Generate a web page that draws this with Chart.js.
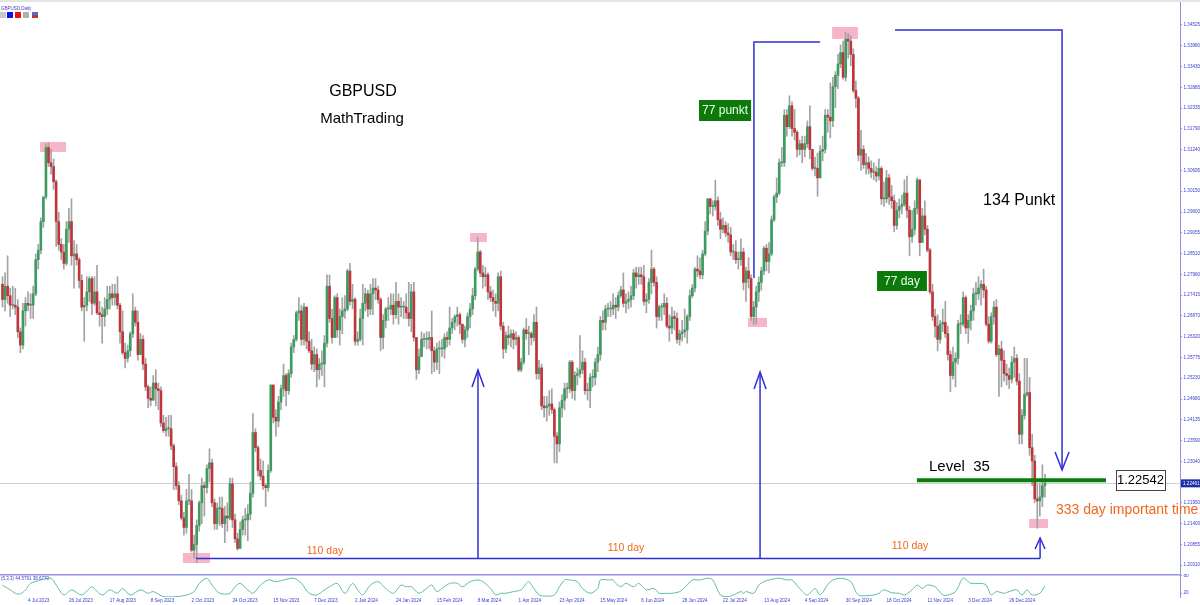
<!DOCTYPE html>
<html>
<head>
<meta charset="utf-8">
<title>GBPUSD Daily</title>
<script src="https://cdn.jsdelivr.net/npm/chart.js@4.4.1/dist/chart.umd.min.js"></script>
<style>
  html, body { margin: 0; padding: 0; background: #fff; }
  #wrap { position: relative; width: 1200px; height: 605px; overflow: hidden; }
  #main { position: absolute; left: 0; top: 0; width: 1200px; height: 574px; }
  #osc { position: absolute; left: 0; top: 574px; width: 1200px; height: 31px; }
</style>
</head>
<body>
<div id="wrap">
  <canvas id="main" width="1200" height="574"></canvas>
  <canvas id="osc" width="1200" height="31"></canvas>
</div>
<script>
// GBPUSD daily, 20 Jun 2023 - 16 Jan 2025 (open of a day = previous close)
const firstOpen = 1.2770;

const closes = [
  1.2730, 1.2765, 1.2740, 1.2715,
  1.2715, 1.2710, 1.2645, 1.2610, 1.2700,
  1.2720, 1.2715, 1.2715, 1.2745, 1.2835,
  1.2860, 1.2935, 1.3000, 1.3130, 1.3090,
  1.3080, 1.3040, 1.2935, 1.2875, 1.2855,
  1.2825, 1.2915, 1.2935, 1.2845, 1.2850,
  1.2835, 1.2780, 1.2710, 1.2715, 1.2750,
  1.2785, 1.2720, 1.2750, 1.2695, 1.2690,
  1.2685, 1.2705, 1.2730, 1.2745, 1.2735,
  1.2745, 1.2715, 1.2645, 1.2590, 1.2575,
  1.2595, 1.2640, 1.2700, 1.2670, 1.2585,
  1.2625, 1.2560, 1.2500, 1.2470, 1.2465,
  1.2510, 1.2495, 1.2490, 1.2405, 1.2385,
  1.2390, 1.2390, 1.2345, 1.2290, 1.2240,
  1.2200, 1.2155, 1.2130, 1.2200, 1.2200,
  1.2070, 1.2085, 1.2135, 1.2195, 1.2240,
  1.2235, 1.2285, 1.2300, 1.2195, 1.2140,
  1.2180, 1.2180, 1.2140, 1.2160, 1.2155,
  1.2245, 1.2150, 1.2100, 1.2075, 1.2125,
  1.2150, 1.2150, 1.2165, 1.2220, 1.2380,
  1.2340, 1.2280, 1.2265, 1.2240, 1.2235,
  1.2280, 1.2505, 1.2420, 1.2410, 1.2460,
  1.2495, 1.2530, 1.2490, 1.2535, 1.2605,
  1.2625, 1.2695, 1.2700, 1.2625, 1.2710,
  1.2620, 1.2595, 1.2560, 1.2585, 1.2545,
  1.2560, 1.2560, 1.2615, 1.2765, 1.2680,
  1.2630, 1.2735, 1.2650, 1.2685, 1.2700,
  1.2705, 1.2805, 1.2725, 1.2730,
  1.2620, 1.2625, 1.2680, 1.2720,
  1.2745, 1.2705, 1.2745, 1.2760, 1.2755,
  1.2730, 1.2630, 1.2675, 1.2705, 1.2705,
  1.2715, 1.2690, 1.2725, 1.2710, 1.2710,
  1.2710, 1.2695, 1.2680, 1.2750, 1.2630,
  1.2545, 1.2580, 1.2625, 1.2625, 1.2625,
  1.2630, 1.2595, 1.2565, 1.2600, 1.2600,
  1.2600, 1.2630, 1.2625, 1.2655, 1.2670,
  1.2685, 1.2690, 1.2665, 1.2625, 1.2650,
  1.2685, 1.2705, 1.2740, 1.2810, 1.2855,
  1.2800, 1.2790, 1.2795, 1.2750, 1.2735,
  1.2725, 1.2720, 1.2790, 1.2660, 1.2600,
  1.2635, 1.2630, 1.2640, 1.2625, 1.2630,
  1.2545, 1.2565, 1.2650, 1.2640, 1.2640,
  1.2630, 1.2670, 1.2535, 1.2550, 1.2450,
  1.2445, 1.2450, 1.2455, 1.2440, 1.2370,
  1.2350, 1.2445, 1.2465, 1.2495, 1.2495,
  1.2565, 1.2490, 1.2530, 1.2535, 1.2545,
  1.2565, 1.2490, 1.2490, 1.2525, 1.2525,
  1.2565, 1.2585, 1.2675, 1.2670, 1.2705,
  1.2705, 1.2705, 1.2715, 1.2710, 1.2740,
  1.2755, 1.2720, 1.2725, 1.2730, 1.2740,
  1.2800, 1.2790, 1.2795, 1.2790, 1.2725,
  1.2730, 1.2775, 1.2810, 1.2775, 1.2685,
  1.2710, 1.2710, 1.2720, 1.2660, 1.2655,
  1.2685, 1.2680, 1.2625, 1.2640, 1.2645,
  1.2650, 1.2685, 1.2740, 1.2760, 1.2810,
  1.2805, 1.2795, 1.2850, 1.2910, 1.2995,
  1.2975, 1.2975, 1.2990, 1.2940, 1.2915,
  1.2925, 1.2905, 1.2900, 1.2855, 1.2855,
  1.2835, 1.2835, 1.2855, 1.2775, 1.2805,
  1.2785, 1.2685, 1.2710, 1.2750, 1.2775,
  1.2805, 1.2865, 1.2830, 1.2850, 1.2940,
  1.3000, 1.3010, 1.3090, 1.3090, 1.3215,
  1.3185, 1.3240, 1.3180, 1.3170, 1.3125,
  1.3140, 1.3125, 1.3140, 1.3185, 1.3125,
  1.3075, 1.3075, 1.3050, 1.3120, 1.3125,
  1.3215, 1.3210, 1.3200, 1.3290, 1.3320,
  1.3350, 1.3380, 1.3315, 1.3415, 1.3410,
  1.3375, 1.3280, 1.3260, 1.3110, 1.3125,
  1.3085, 1.3090, 1.3075, 1.3065, 1.3065,
  1.3055, 1.3075, 1.2995, 1.2995, 1.3050,
  1.3000, 1.2990, 1.2925, 1.2965, 1.2975,
  1.2980, 1.3010, 1.2965, 1.2895, 1.2915,
  1.2970, 1.3045, 1.2880, 1.2950, 1.2915,
  1.2860, 1.2750, 1.2685, 1.2660, 1.2625,
  1.2665, 1.2670, 1.2640, 1.2585, 1.2530,
  1.2565, 1.2575, 1.2665, 1.2665, 1.2735,
  1.2655, 1.2675, 1.2700, 1.2745, 1.2745,
  1.2760, 1.2770, 1.2755, 1.2665, 1.2620,
  1.2685, 1.2710, 1.2585, 1.2600, 1.2570,
  1.2535, 1.2530, 1.2520, 1.2565,
  1.2575, 1.2515, 1.2375, 1.2425,
  1.2480, 1.2485, 1.2340, 1.2305, 1.2205,
  1.2200, 1.2210, 1.2240, 1.2246
];

const highs = [
  1.2790, 1.2800, 1.2845, 1.2760,
  1.2765, 1.2760, 1.2730, 1.2655, 1.2720,
  1.2735, 1.2750, 1.2745, 1.2765, 1.2850,
  1.2875, 1.2945, 1.3000, 1.3140, 1.3142,
  1.3125, 1.3100, 1.3045, 1.2960, 1.2890,
  1.2875, 1.2935, 1.2970, 1.2995, 1.2885,
  1.2875, 1.2840, 1.2795, 1.2735, 1.2790,
  1.2790, 1.2790, 1.2790, 1.2820, 1.2725,
  1.2710, 1.2735, 1.2765, 1.2765, 1.2770,
  1.2770, 1.2790, 1.2720, 1.2700, 1.2615,
  1.2610, 1.2645, 1.2745, 1.2710, 1.2700,
  1.2640, 1.2635, 1.2575, 1.2505, 1.2500,
  1.2530, 1.2545, 1.2510, 1.2500, 1.2425,
  1.2420, 1.2425, 1.2425, 1.2350, 1.2300,
  1.2250, 1.2215, 1.2170, 1.2230, 1.2270,
  1.2230, 1.2110, 1.2150, 1.2200, 1.2260,
  1.2250, 1.2295, 1.2337, 1.2310, 1.2205,
  1.2195, 1.2210, 1.2210, 1.2185, 1.2195,
  1.2260, 1.2260, 1.2165, 1.2115, 1.2145,
  1.2160, 1.2180, 1.2190, 1.2250, 1.2430,
  1.2390, 1.2345, 1.2310, 1.2305, 1.2245,
  1.2295, 1.2505, 1.2505, 1.2440, 1.2475,
  1.2505, 1.2560, 1.2535, 1.2545, 1.2615,
  1.2635, 1.2700, 1.2735, 1.2715, 1.2720,
  1.2710, 1.2645, 1.2625, 1.2605, 1.2600,
  1.2575, 1.2595, 1.2635, 1.2795, 1.2795,
  1.2705, 1.2740, 1.2745, 1.2705, 1.2735,
  1.2740, 1.2810, 1.2825, 1.2770,
  1.2735, 1.2645, 1.2705, 1.2770,
  1.2760, 1.2755, 1.2770, 1.2785, 1.2785,
  1.2765, 1.2735, 1.2690, 1.2710, 1.2735,
  1.2745, 1.2745, 1.2775, 1.2745, 1.2735,
  1.2725, 1.2745, 1.2775, 1.2770, 1.2775,
  1.2630, 1.2600, 1.2645, 1.2640, 1.2645,
  1.2645, 1.2700, 1.2605, 1.2615, 1.2620,
  1.2625, 1.2640, 1.2645, 1.2710, 1.2680,
  1.2690, 1.2710, 1.2695, 1.2665, 1.2660,
  1.2695, 1.2720, 1.2760, 1.2815, 1.2894,
  1.2860, 1.2820, 1.2815, 1.2800, 1.2765,
  1.2755, 1.2745, 1.2800, 1.2805, 1.2670,
  1.2645, 1.2660, 1.2650, 1.2650, 1.2645,
  1.2635, 1.2575, 1.2655, 1.2680, 1.2660,
  1.2645, 1.2690, 1.2710, 1.2570, 1.2560,
  1.2475, 1.2475, 1.2490, 1.2495, 1.2445,
  1.2380, 1.2460, 1.2480, 1.2510, 1.2510,
  1.2570, 1.2570, 1.2540, 1.2550, 1.2635,
  1.2595, 1.2575, 1.2510, 1.2535, 1.2545,
  1.2575, 1.2605, 1.2685, 1.2700, 1.2715,
  1.2720, 1.2725, 1.2745, 1.2735, 1.2750,
  1.2765, 1.2800, 1.2745, 1.2750, 1.2765,
  1.2810, 1.2815, 1.2815, 1.2815, 1.2820,
  1.2745, 1.2785, 1.2860, 1.2815, 1.2790,
  1.2715, 1.2720, 1.2745, 1.2735, 1.2690,
  1.2710, 1.2700, 1.2695, 1.2650, 1.2675,
  1.2705, 1.2690, 1.2755, 1.2770, 1.2815,
  1.2845, 1.2840, 1.2860, 1.2935, 1.2995,
  1.2995, 1.2990, 1.3044, 1.3000, 1.2960,
  1.2945, 1.2935, 1.2930, 1.2920, 1.2875,
  1.2885, 1.2855, 1.2890, 1.2865, 1.2815,
  1.2840, 1.2795, 1.2725, 1.2765, 1.2790,
  1.2815, 1.2870, 1.2875, 1.2880, 1.2950,
  1.3005, 1.3050, 1.3100, 1.3130, 1.3230,
  1.3230, 1.3266, 1.3250, 1.3230, 1.3175,
  1.3150, 1.3160, 1.3160, 1.3200, 1.3240,
  1.3125, 1.3105, 1.3115, 1.3135, 1.3160,
  1.3230, 1.3230, 1.3300, 1.3315, 1.3330,
  1.3375, 1.3400, 1.3410, 1.3434, 1.3430,
  1.3425, 1.3390, 1.3305, 1.3265, 1.3175,
  1.3135, 1.3115, 1.3105, 1.3095, 1.3090,
  1.3080, 1.3100, 1.3080, 1.3040, 1.3070,
  1.3060, 1.3030, 1.3005, 1.2985, 1.2995,
  1.3005, 1.3045, 1.3055, 1.2975, 1.2965,
  1.2990, 1.3050, 1.3045, 1.2970, 1.2990,
  1.2925, 1.2865, 1.2770, 1.2705, 1.2690,
  1.2675, 1.2705, 1.2725, 1.2660, 1.2595,
  1.2605, 1.2590, 1.2675, 1.2690, 1.2750,
  1.2740, 1.2690, 1.2715, 1.2760, 1.2775,
  1.2790, 1.2780, 1.2810, 1.2765, 1.2685,
  1.2695, 1.2725, 1.2730, 1.2610, 1.2620,
  1.2595, 1.2560, 1.2550, 1.2580,
  1.2605, 1.2585, 1.2535, 1.2440,
  1.2575, 1.2575, 1.2525, 1.2375, 1.2320,
  1.2245, 1.2245, 1.2295, 1.2270
];

const lows = [
  1.2710, 1.2700, 1.2720, 1.2685,
  1.2705, 1.2690, 1.2630, 1.2590, 1.2600,
  1.2660, 1.2700, 1.2680, 1.2680, 1.2740,
  1.2810, 1.2850, 1.2920, 1.2995, 1.3080,
  1.3060, 1.3020, 1.2870, 1.2860, 1.2835,
  1.2810, 1.2820, 1.2880, 1.2820, 1.2760,
  1.2820, 1.2760, 1.2700, 1.2620, 1.2700,
  1.2725, 1.2690, 1.2715, 1.2690, 1.2660,
  1.2615, 1.2660, 1.2690, 1.2705, 1.2715,
  1.2715, 1.2705, 1.2615, 1.2585, 1.2550,
  1.2565, 1.2580, 1.2630, 1.2660, 1.2570,
  1.2585, 1.2545, 1.2490, 1.2445, 1.2450,
  1.2465, 1.2450, 1.2440, 1.2395, 1.2380,
  1.2370, 1.2370, 1.2335, 1.2230, 1.2230,
  1.2190, 1.2150, 1.2110, 1.2115, 1.2190,
  1.2065, 1.2050, 1.2037, 1.2120, 1.2140,
  1.2160, 1.2220, 1.2250, 1.2185, 1.2125,
  1.2125, 1.2135, 1.2130, 1.2090, 1.2120,
  1.2150, 1.2130, 1.2090, 1.2070, 1.2075,
  1.2110, 1.2110, 1.2095, 1.2150, 1.2210,
  1.2330, 1.2265, 1.2255, 1.2230, 1.2185,
  1.2225, 1.2275, 1.2405, 1.2370, 1.2395,
  1.2440, 1.2475, 1.2450, 1.2480, 1.2525,
  1.2590, 1.2620, 1.2675, 1.2610, 1.2610,
  1.2600, 1.2590, 1.2545, 1.2540, 1.2500,
  1.2520, 1.2530, 1.2500, 1.2605, 1.2670,
  1.2615, 1.2630, 1.2630, 1.2610, 1.2640,
  1.2680, 1.2700, 1.2715, 1.2705,
  1.2610, 1.2610, 1.2620, 1.2610,
  1.2700, 1.2685, 1.2690, 1.2690, 1.2730,
  1.2720, 1.2595, 1.2600, 1.2655, 1.2675,
  1.2690, 1.2665, 1.2680, 1.2665, 1.2685,
  1.2680, 1.2680, 1.2660, 1.2645, 1.2620,
  1.2520, 1.2535, 1.2580, 1.2605, 1.2600,
  1.2600, 1.2535, 1.2540, 1.2545, 1.2535,
  1.2580, 1.2575, 1.2605, 1.2610, 1.2640,
  1.2650, 1.2660, 1.2640, 1.2615, 1.2605,
  1.2630, 1.2655, 1.2690, 1.2730, 1.2805,
  1.2790, 1.2760, 1.2765, 1.2730, 1.2725,
  1.2700, 1.2685, 1.2700, 1.2650, 1.2575,
  1.2590, 1.2610, 1.2605, 1.2600, 1.2610,
  1.2540, 1.2540, 1.2560, 1.2625, 1.2585,
  1.2610, 1.2620, 1.2520, 1.2520, 1.2440,
  1.2420, 1.2410, 1.2425, 1.2430, 1.2300,
  1.2300, 1.2330, 1.2420, 1.2440, 1.2470,
  1.2485, 1.2470, 1.2465, 1.2505, 1.2525,
  1.2535, 1.2480, 1.2465, 1.2445, 1.2500,
  1.2505, 1.2540, 1.2570, 1.2650, 1.2650,
  1.2685, 1.2685, 1.2690, 1.2680, 1.2700,
  1.2735, 1.2710, 1.2695, 1.2705, 1.2710,
  1.2730, 1.2760, 1.2770, 1.2770, 1.2715,
  1.2695, 1.2720, 1.2745, 1.2765, 1.2655,
  1.2675, 1.2675, 1.2690, 1.2655, 1.2620,
  1.2640, 1.2650, 1.2615, 1.2610, 1.2620,
  1.2630, 1.2615, 1.2675, 1.2735, 1.2750,
  1.2790, 1.2785, 1.2785, 1.2845, 1.2900,
  1.2955, 1.2950, 1.2965, 1.2925, 1.2890,
  1.2905, 1.2895, 1.2880, 1.2845, 1.2835,
  1.2825, 1.2810, 1.2820, 1.2755, 1.2725,
  1.2760, 1.2675, 1.2665, 1.2665, 1.2725,
  1.2755, 1.2795, 1.2805, 1.2800, 1.2845,
  1.2935, 1.2985, 1.3005, 1.3080, 1.3080,
  1.3160, 1.3180, 1.3160, 1.3150, 1.3105,
  1.3110, 1.3090, 1.3105, 1.3130, 1.3100,
  1.3070, 1.3055, 1.3002, 1.3055, 1.3095,
  1.3115, 1.3170, 1.3155, 1.3185, 1.3235,
  1.3285, 1.3340, 1.3310, 1.3305, 1.3365,
  1.3345, 1.3275, 1.3235, 1.3095, 1.3070,
  1.3075, 1.3060, 1.3060, 1.3050, 1.3045,
  1.3040, 1.3045, 1.2980, 1.2975, 1.2985,
  1.2980, 1.2970, 1.2908, 1.2915, 1.2945,
  1.2955, 1.2975, 1.2945, 1.2845, 1.2880,
  1.2900, 1.2955, 1.2845, 1.2880, 1.2900,
  1.2855, 1.2745, 1.2675, 1.2630, 1.2595,
  1.2615, 1.2645, 1.2630, 1.2570, 1.2487,
  1.2520, 1.2500, 1.2560, 1.2640, 1.2660,
  1.2640, 1.2615, 1.2650, 1.2675, 1.2715,
  1.2730, 1.2715, 1.2735, 1.2660, 1.2615,
  1.2615, 1.2665, 1.2580, 1.2475, 1.2500,
  1.2515, 1.2505, 1.2495, 1.2510,
  1.2525, 1.2505, 1.2350, 1.2350,
  1.2415, 1.2475, 1.2320, 1.2240, 1.2195,
  1.2128, 1.2160, 1.2185, 1.2210
];

// stochastic main line, read at these candle positions
const oscAt = [
  0, 3, 5, 7, 9, 11, 15, 19, 21, 24,
  27, 31, 34, 35, 39, 42, 45, 47, 50, 54,
  57, 59, 63, 68, 72, 75, 77, 80, 82, 85,
  89, 91, 93, 96, 98, 101, 104, 107, 110, 114,
  117, 120, 123, 126, 128, 131, 134, 137, 139, 141,
  144, 147, 150, 153, 156, 158, 160, 163, 166, 168,
  170, 172, 175, 178, 180, 183, 186, 188, 191, 193,
  195, 197, 200, 203, 205, 206, 208, 210, 213, 216,
  218, 220, 222, 225, 227, 230, 233, 234, 237, 239,
  240, 242, 244, 247, 249, 252, 255, 257, 260, 262,
  265, 268, 270, 273, 276, 278, 281, 284, 286, 289,
  290, 291, 294, 296, 298, 300, 304, 307, 309, 312,
  315, 318, 320, 324, 328, 332, 335, 341, 343, 345,
  348, 351, 353, 356, 358, 360, 362, 365, 368, 370,
  373, 376, 379, 383, 385, 387, 389, 392, 394, 397,
  399, 401, 403, 406, 408
];
const oscVal = [
  48, 31, 19, 17, 31, 54, 66, 72, 48, 13,
  31, 13, 36, 42, 13, 31, 19, 36, 13, 31,
  19, 25, 7, 7, 13, 25, 54, 72, 48, 19,
  19, 42, 54, 31, 19, 48, 66, 60, 66, 72,
  54, 19, 13, 31, 42, 54, 19, 54, 31, 13,
  48, 60, 36, 19, 48, 42, 42, 19, 36, 48,
  25, 36, 54, 54, 42, 60, 66, 60, 36, 13,
  19, 19, 25, 31, 54, 60, 36, 13, 9, 13,
  42, 66, 66, 60, 36, 19, 36, 66, 66, 66,
  54, 42, 54, 42, 54, 31, 36, 19, 19, 19,
  25, 48, 66, 66, 72, 66, 13, 7, 13, 25,
  19, 25, 19, 48, 60, 66, 72, 66, 66, 36,
  13, 36, 13, 60, 72, 60, 13, 13, 19, 31,
  21, 19, 13, 31, 48, 36, 48, 42, 13, 13,
  25, 72, 54, 54, 48, 13, 25, 19, 25, 31,
  13, 31, 13, 19, 45
];

const dateTickAt = [10, 26, 42, 58, 74, 90, 106, 122, 138, 154, 170, 186, 202,
  218, 234, 250, 266, 282, 298, 314, 330, 346, 362, 378, 394];
const dateLabels = ['4 Jul 2023', '26 Jul 2023', '17 Aug 2023', '8 Sep 2023', '2 Oct 2023',
  '24 Oct 2023', '15 Nov 2023', '7 Dec 2023', '2 Jan 2024', '24 Jan 2024', '15 Feb 2024',
  '8 Mar 2024', '1 Apr 2024', '23 Apr 2024', '15 May 2024', '6 Jun 2024', '28 Jun 2024',
  '22 Jul 2024', '13 Aug 2024', '4 Sep 2024', '30 Sep 2024', '18 Oct 2024', '11 Nov 2024',
  '3 Dec 2024', '26 Dec 2024'];

const priceTicks = [1.34525, 1.33980, 1.33430, 1.32885, 1.32335, 1.31790, 1.31240, 1.30695,
  1.30150, 1.29600, 1.29055, 1.28510, 1.27960, 1.27415, 1.26870, 1.26320, 1.25775, 1.25230,
  1.24680, 1.24135, 1.23590, 1.23040, 1.21950, 1.21400, 1.20855, 1.20310];
const oscTicks = [80, 20];

const lastPrice = 1.22461;
const levelPrice = 1.22542;

// ---- chart setup ----
const FONT = '"Liberation Sans", Arial, sans-serif';
const AXIS_BLUE = '#3a3ad0';
const X_MIN = -0.98, X_MAX = 460.86;

const opens = closes.map((c, i) => (i === 0 ? firstOpen : closes[i - 1]));
const bodyData = closes.map((c, i) => ({ x: i, y: [opens[i], c] }));
const wickData = closes.map((c, i) => ({
  x: i,
  y: [Math.min(lows[i], opens[i], c), Math.max(highs[i], opens[i], c)]
}));
const bodyColors = closes.map((c, i) => (c >= opens[i] ? '#3e9b5e' : '#c0343c'));

function xAxis(show) {
  return {
    type: 'linear', min: X_MIN, max: X_MAX, offset: false, display: show,
    grid: { display: false, drawTicks: false, tickLength: 0 }, border: { display: false },
    ticks: {
      autoSkip: false, maxRotation: 0, align: 'start', padding: 1,
      color: AXIS_BLUE, font: { family: FONT, size: 4.6 },
      callback: (v, i) => dateLabels[i]
    },
    afterBuildTicks: s => { s.ticks = dateTickAt.map(v => ({ value: v })); },
    afterFit: s => { s.paddingLeft = 0; s.paddingRight = 0; if (show) s.height = 8; }
  };
}

// annotation layout, in candle index / price units
const pinkBoxes = [
  [14.7, 24.9, 1.31446, 1.31182],
  [70.6, 81.2, 1.20628, 1.20365],
  [183.0, 189.6, 1.29050, 1.28814],
  [291.8, 299.2, 1.26813, 1.26576],
  [324.7, 334.8, 1.34472, 1.34157],
  [401.8, 409.2, 1.21523, 1.21286]
];
const bluePaths = [
  [[75.7, 1.20483], [406.1, 1.20483]],
  [[186.1, 1.20483], [186.1, 1.25445]],
  [[296.5, 1.20483], [296.5, 1.25392]],
  [[406.1, 1.20483], [406.1, 1.21023]],
  [[294.1, 1.27866], [294.1, 1.34078], [320.0, 1.34078]],
  [[349.3, 1.34393], [414.7, 1.34393], [414.7, 1.22813]]
];
const arrowHeads = [ // tip, direction (-1 up, 1 down), half width, length (px)
  [186.1, 1.25445, -1, 6, 17],
  [296.5, 1.25392, -1, 6, 17],
  [406.1, 1.21023, -1, 5, 11],
  [414.7, 1.22813, 1, 7, 18]
];
const greenTags = [
  ['77 punkt', 272.6, 293.0, 1.32551, 1.31998],
  ['77 day', 342.3, 361.8, 1.28050, 1.27524]
];
const labels = [
  ['GBPUSD', 141.1, 1.32762, 16, '#000', 'center'],
  ['MathTrading', 140.7, 1.32051, 15, '#000', 'center'],
  ['134 Punkt', 383.8, 1.29893, 16, '#000', 'left'],
  ['Level  35', 362.6, 1.22892, 15, '#000', 'left'],
  ['333 day important time', 412.3, 1.21760, 14, '#f0661e', 'left'],
  ['110 day', 126.2, 1.20681, 10.5, '#f0661e', 'center'],
  ['110 day', 244.0, 1.20760, 10.5, '#f0661e', 'center'],
  ['110 day', 355.2, 1.20812, 10.5, '#f0661e', 'center']
];

const notes = {
  id: 'notes',
  beforeDatasetsDraw(chart) {
    const { ctx, chartArea, scales: { x, y } } = chart;
    ctx.save();
    const yp = Math.round(y.getPixelForValue(lastPrice)) + 0.5;
    ctx.strokeStyle = '#cfcfcf';
    ctx.lineWidth = 1;
    ctx.beginPath(); ctx.moveTo(0, yp); ctx.lineTo(chartArea.right, yp); ctx.stroke();
    ctx.fillStyle = 'rgba(246,168,190,0.85)';
    pinkBoxes.forEach(([a, b, p, q]) => {
      const x0 = x.getPixelForValue(a), x1 = x.getPixelForValue(b);
      const y0 = y.getPixelForValue(p), y1 = y.getPixelForValue(q);
      ctx.fillRect(x0, y0, x1 - x0, y1 - y0);
    });
    ctx.restore();
  },
  afterDraw(chart) {
    const { ctx, chartArea, scales: { x, y } } = chart;
    const X = v => x.getPixelForValue(v), Y = v => y.getPixelForValue(v);
    ctx.save();

    // top strip and small toolbar squares
    ctx.fillStyle = '#e4e4e4';
    ctx.fillRect(0, 0, 1200, 2);
    [['#c8c8c8', 0], ['#1010f0', 7], ['#f01010', 15], ['#b0b0b0', 23]].forEach(([c, px]) => {
      ctx.fillStyle = c; ctx.fillRect(px, 12, 6, 6);
    });
    ctx.fillStyle = '#4a6ae0'; ctx.fillRect(32, 12, 6, 3);
    ctx.fillStyle = '#c83030'; ctx.fillRect(32, 15, 6, 3);
    ctx.fillStyle = '#3c3cc8';
    ctx.font = '4.5px ' + FONT;
    ctx.textBaseline = 'middle'; ctx.textAlign = 'left';
    ctx.fillText('GBPUSD,Daily', 1, 8.5);

    // blue construction lines
    ctx.strokeStyle = '#2f2fd8';
    ctx.lineWidth = 1.5;
    bluePaths.forEach(path => {
      ctx.beginPath();
      path.forEach(([i, p], k) => (k ? ctx.lineTo(X(i), Y(p)) : ctx.moveTo(X(i), Y(p))));
      ctx.stroke();
    });
    arrowHeads.forEach(([i, p, dir, w, len]) => {
      const tx = X(i), ty = Y(p);
      ctx.beginPath();
      ctx.moveTo(tx - w, ty - dir * len);
      ctx.lineTo(tx, ty);
      ctx.lineTo(tx + w, ty - dir * len);
      ctx.stroke();
    });

    // level line and its price box
    ctx.strokeStyle = '#0a7d0a';
    ctx.lineWidth = 4;
    ctx.beginPath(); ctx.moveTo(X(357.9), Y(levelPrice)); ctx.lineTo(X(431.9), Y(levelPrice)); ctx.stroke();
    const bx0 = X(435.8), bx1 = X(455.0), by0 = Y(1.22812), by1 = Y(1.22286);
    ctx.fillStyle = '#fff';
    ctx.fillRect(bx0, by0, bx1 - bx0, by1 - by0);
    ctx.strokeStyle = '#444'; ctx.lineWidth = 1;
    ctx.strokeRect(Math.round(bx0) + 0.5, Math.round(by0) + 0.5, Math.round(bx1 - bx0), Math.round(by1 - by0));
    ctx.fillStyle = '#000';
    ctx.font = '13px ' + FONT;
    ctx.textAlign = 'center';
    ctx.fillText(levelPrice.toFixed(5), (bx0 + bx1) / 2, (by0 + by1) / 2 + 0.5);

    // green tags
    greenTags.forEach(([t, a, b, p, q]) => {
      const x0 = X(a), x1 = X(b), y0 = Y(p), y1 = Y(q);
      ctx.fillStyle = '#0b7a0b';
      ctx.fillRect(x0, y0, x1 - x0, y1 - y0);
      ctx.fillStyle = '#eaffea';
      ctx.font = '12px ' + FONT;
      ctx.textAlign = 'center';
      ctx.fillText(t, (x0 + x1) / 2, (y0 + y1) / 2 + 0.5);
    });

    // free text
    labels.forEach(([t, i, p, size, color, align]) => {
      ctx.fillStyle = color;
      ctx.font = size + 'px ' + FONT;
      ctx.textAlign = align;
      ctx.fillText(t, X(i), Y(p));
    });

    // current price marker on the axis
    const ly = Y(lastPrice);
    ctx.fillStyle = '#1d2fa8';
    ctx.fillRect(chartArea.right + 1, ly - 4, 19, 8);
    ctx.fillStyle = '#fff';
    ctx.font = '4.6px ' + FONT;
    ctx.textAlign = 'left';
    ctx.fillText(lastPrice.toFixed(5), chartArea.right + 3, ly + 0.3);
    ctx.restore();
  }
};

new Chart(document.getElementById('main'), {
  type: 'bar',
  data: {
    datasets: [
      { data: bodyData, backgroundColor: bodyColors, barThickness: 2, minBarLength: 1, grouped: false, borderWidth: 0 },
      { data: wickData, backgroundColor: '#a2a2a2', barThickness: 1, grouped: false, borderWidth: 0 }
    ]
  },
  options: {
    responsive: false,
    animation: false,
    events: [],
    devicePixelRatio: 1,
    layout: { padding: 0 },
    plugins: { legend: { display: false }, tooltip: { enabled: false } },
    scales: {
      x: xAxis(false),
      y: {
        position: 'right', min: 1.20075, max: 1.35183,
        grid: { display: true, drawOnChartArea: false, tickLength: 2, color: '#8f8fe6' },
        border: { display: true, color: '#8f8fe6' },
        ticks: {
          autoSkip: false, padding: 1.5, color: AXIS_BLUE,
          font: { family: FONT, size: 4.6 },
          callback: v => v.toFixed(5)
        },
        afterBuildTicks: s => { s.ticks = priceTicks.map(v => ({ value: v })); },
        afterFit: s => { s.width = 20; s.paddingTop = 0; s.paddingBottom = 0; }
      }
    }
  },
  plugins: [notes]
});

const oscFrame = {
  id: 'oscFrame',
  afterDraw(chart) {
    const { ctx, chartArea } = chart;
    ctx.save();
    ctx.fillStyle = '#9494e6';
    ctx.fillRect(0, 0, chartArea.right + 1, 1.5);
    ctx.fillStyle = '#3c3cc8';
    ctx.font = '4.5px ' + FONT;
    ctx.textAlign = 'left';
    ctx.textBaseline = 'middle';
    ctx.fillText('(5,3,3) 44.5791 38.6770', 1, 5);
    ctx.restore();
  }
};

new Chart(document.getElementById('osc'), {
  type: 'line',
  data: {
    datasets: [{
      data: oscAt.map((a, i) => ({ x: a, y: oscVal[i] })),
      borderColor: '#5bbca6', borderWidth: 1, pointRadius: 0, tension: 0.3, fill: false
    }]
  },
  options: {
    responsive: false,
    animation: false,
    events: [],
    devicePixelRatio: 1,
    layout: { padding: { top: 1, left: 0, right: 0, bottom: 0 } },
    plugins: { legend: { display: false }, tooltip: { enabled: false } },
    scales: {
      x: xAxis(true),
      y: {
        position: 'right', min: 5.9, max: 83.5,
        grid: { display: true, drawOnChartArea: false, tickLength: 2, color: '#8f8fe6' },
        border: { display: true, color: '#8f8fe6' },
        ticks: {
          autoSkip: false, padding: 1.5, color: AXIS_BLUE,
          font: { family: FONT, size: 4.6 }
        },
        afterBuildTicks: s => { s.ticks = oscTicks.map(v => ({ value: v })); },
        afterFit: s => { s.width = 20; s.paddingTop = 0; s.paddingBottom = 0; }
      }
    }
  },
  plugins: [oscFrame]
});
</script>
</body>
</html>
